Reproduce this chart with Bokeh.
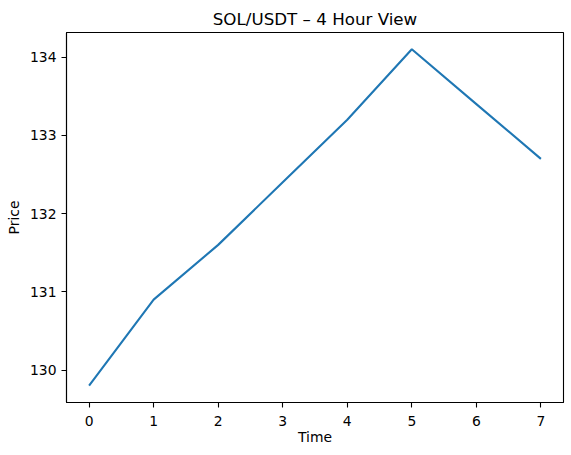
from bokeh.plotting import figure
from bokeh.models import Range1d, FixedTicker
from bokeh.embed import file_html
from bokeh.resources import INLINE

time = [0, 1, 2, 3, 4, 5, 6, 7]
price = [129.8, 130.9, 131.6, 132.4, 133.2, 134.1, 133.4, 132.7]
x_ticks = [0, 1, 2, 3, 4, 5, 6, 7]
y_ticks = [130, 131, 132, 133, 134]

xpad = (max(time) - min(time)) * 0.05
ypad = (max(price) - min(price)) * 0.05

p = figure(width=571, height=455, output_backend="svg", toolbar_location=None,
           title="SOL/USDT – 4 Hour View",
           x_range=Range1d(min(time) - xpad, max(time) + xpad),
           y_range=Range1d(min(price) - ypad, max(price) + ypad),
           min_border_left=66, min_border_right=8, min_border_top=32, min_border_bottom=53)

p.line(time, price, line_color="#1f77b4", line_width=2.1)

p.title.align = "center"
p.title.text_font = "DejaVu Sans"
p.title.text_font_size = "16.7px"
p.title.text_font_style = "normal"
p.title.text_color = "black"
p.title.standoff = 7

p.xgrid.visible = False
p.ygrid.visible = False
p.outline_line_color = "black"
p.outline_line_width = 1.1
p.outline_line_alpha = 1.0

p.xaxis.ticker = FixedTicker(ticks=x_ticks)
p.yaxis.ticker = FixedTicker(ticks=y_ticks)
p.xaxis.axis_label = "Time"
p.yaxis.axis_label = "Price"
for ax in (p.xaxis, p.yaxis):
    ax.axis_line_color = "black"
    ax.axis_line_width = 1.1
    ax.major_tick_line_color = "black"
    ax.major_tick_line_width = 1.1
    ax.major_tick_out = 5
    ax.major_tick_in = 0
    ax.minor_tick_line_color = None
    ax.major_label_text_font = "DejaVu Sans"
    ax.major_label_text_font_size = "13.9px"
    ax.major_label_text_color = "black"
    ax.axis_label_text_font = "DejaVu Sans"
    ax.axis_label_text_font_size = "13.9px"
    ax.axis_label_text_font_style = "normal"
    ax.axis_label_text_color = "black"
p.xaxis.major_label_standoff = 8
p.yaxis.major_label_standoff = 5
p.xaxis.axis_label_standoff = 0
p.yaxis.axis_label_standoff = 5

p.background_fill_color = "white"
p.border_fill_color = "white"

open("out.html", "w").write(file_html(p, INLINE))
